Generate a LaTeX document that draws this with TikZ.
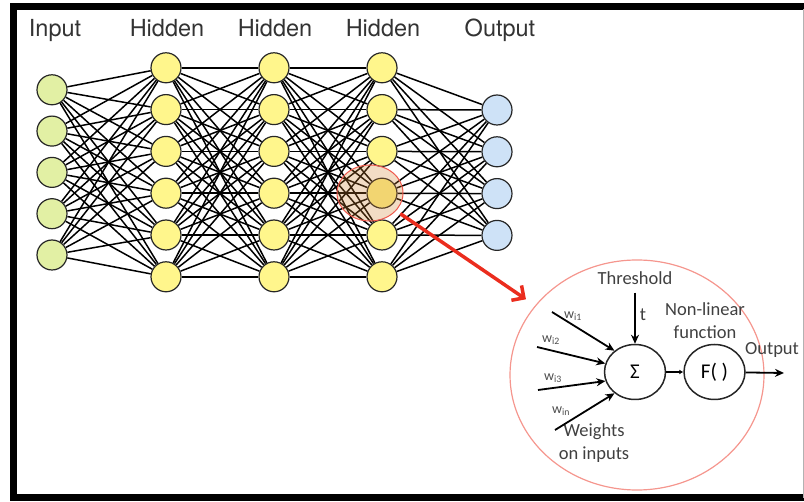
\documentclass[tikz,border=0pt]{standalone}
\usepackage{fontspec}
\setmainfont{Carlito}
\newfontfamily\headfont{TeX Gyre Heros}
\usetikzlibrary{positioning,shapes.geometric,arrows.meta,backgrounds}

\definecolor{inputfill}{RGB}{226,240,164}
\definecolor{hiddenfill}{RGB}{255,246,140}
\definecolor{outputfill}{RGB}{206,226,247}
\definecolor{zoomred}{RGB}{235,45,30}

\tikzset{
  neuron/.style={circle, draw=black!85, line width=1.2pt, minimum size=30pt, inner sep=0pt},
  link/.style={line width=1.5pt},
  layer/.style={font=\headfont\fontsize{23.5}{26}\selectfont, anchor=base, text=black!80, inner sep=0pt},
  unit/.style={ellipse, draw=black!85, line width=1.5pt, minimum width=61pt, minimum height=55pt, inner sep=0pt, font=\fontsize{21}{24}\selectfont},
  note/.style={font=\fontsize{18.5}{23}\selectfont, text=black!75, inner sep=1pt},
  wlabel/.style={font=\fontsize{14}{16}\selectfont, text=black!70, inner sep=0pt},
  wire/.style={line width=1.8pt, -{Stealth[length=9pt,width=8pt]}}
}

\begin{document}
\begin{tikzpicture}[x=1pt, y=-1pt]
  \useasboundingbox (0,0) rectangle (804,502);
  % frame
  \draw[line width=7pt] (804,7) -- (13,7) -- (13,498) -- (804,498);
  \draw[black!30, line width=1pt] (803,9) -- (803,498);

  % layer titles
  \node[layer] (t_in)  at (55,37)  {Input};
  \node[layer] (t_ha)  at (167,37) {Hidden};
  \node[layer] (t_hb)  at (275,37) {Hidden};
  \node[layer] (t_hc)  at (383,37) {Hidden};
  \node[layer] (t_out) at (500,37) {Output};

  % network
  \foreach \i in {1,...,5}
    \node[neuron, fill=inputfill] (in_\i) at (52,48.5+\i*41.3) {};
  \foreach \i in {1,...,6} {
    \node[neuron, fill=hiddenfill] (ha_\i) at (166,26+\i*41.8) {};
    \node[neuron, fill=hiddenfill] (hb_\i) at (274,26+\i*41.8) {};
    \node[neuron, fill=hiddenfill] (hc_\i) at (382,26+\i*41.8) {};
  }
  \foreach \i in {1,...,4}
    \node[neuron, fill=outputfill] (out_\i) at (497,68.2+\i*41.8) {};

  \begin{scope}[on background layer]
    \foreach \a in {1,...,5}
      \foreach \b in {1,...,6}
        \draw[link] (in_\a) -- (ha_\b);
    \foreach \a in {1,...,6}
      \foreach \b in {1,...,6} {
        \draw[link] (ha_\a) -- (hb_\b);
        \draw[link] (hb_\a) -- (hc_\b);
      }
    \foreach \a in {1,...,6}
      \foreach \b in {1,...,4}
        \draw[link] (hc_\a) -- (out_\b);
  \end{scope}

  % highlighted neuron and its close-up
  \node[ellipse, draw=zoomred!80, line width=1pt, fill=brown!70!orange, fill opacity=0.28,
        minimum width=66pt, minimum height=56pt] (hl) at (370,193) {};
  \node[ellipse, draw=zoomred!50, line width=1.2pt, minimum width=254pt, minimum height=230pt] (detail) at (637,375) {};
  \draw[zoomred, line width=3.5pt, -{Straight Barb[length=9pt,width=18pt]}, shorten <=5pt, shorten >=11pt] (hl) -- (detail);

  \node[unit] (sum) at (635,372) {Σ};
  \node[unit] (fun) [right=17pt of sum] {F( )};
  \node[note] (thold) at (635,278) {Threshold};
  \node[note] (t) at (643,315) {t};
  \node[note, align=center] (nonlin) at (705,321) {Non-linear\\function};
  \node[note] (outlbl) at (772,350) {Output};
  \node[note, align=center] (weights) at (594,443) {Weights\\on inputs};
  \node[wlabel] (w_1) at (573,316) {w\textsubscript{i1}};
  \node[wlabel] (w_2) at (551,340) {w\textsubscript{i2}};
  \node[wlabel] (w_3) at (553,378) {w\textsubscript{i3}};
  \node[wlabel] (w_4) at (561,411) {w\textsubscript{in}};

  \coordinate (x_1) at (552,312);
  \coordinate (x_2) at (537,347);
  \coordinate (x_3) at (538,390);
  \coordinate (x_4) at (555,430);
  \coordinate (y) at (784,373);

  \path[wire]
    (thold) edge [shorten <=7pt] (sum)
    (x_1)   edge (sum.134)
    (x_2)   edge (sum.164)
    (x_3)   edge (sum.197)
    (x_4)   edge (sum.226)
    (fun)   edge (y);
  \draw[line width=1.5pt, -{Latex[length=4pt,width=5pt]}] (sum) -- (fun);
\end{tikzpicture}
\end{document}
